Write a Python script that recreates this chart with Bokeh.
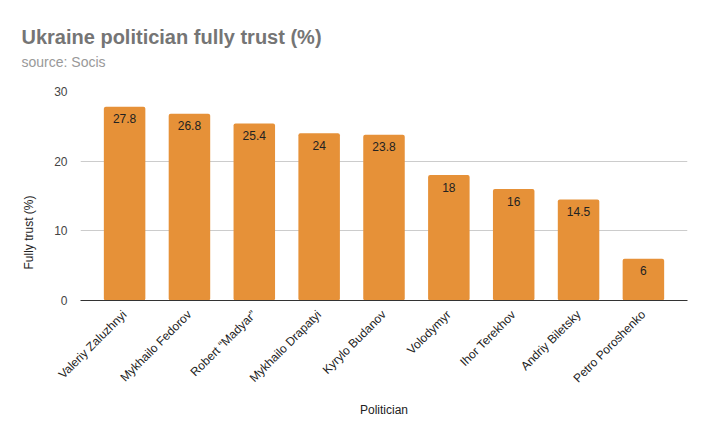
import math
from bokeh.plotting import figure
from bokeh.models import (ColumnDataSource, FactorRange, Range1d, FixedTicker,
                          LabelSet, Title)
from bokeh.core.properties import value
from bokeh.embed import file_html
from bokeh.resources import INLINE

politicians = ["Valeriy Zaluzhnyi", "Mykhailo Fedorov", "Robert \u201cMadyar\u201d",
               "Mykhailo Drapatyi", "Kyrylo Budanov", "Volodymyr", "Ihor Terekhov",
               "Andriy Biletsky", "Petro Poroshenko"]
trust = [27.8, 26.8, 25.4, 24, 23.8, 18, 16, 14.5, 6]
labels = ["27.8", "26.8", "25.4", "24", "23.8", "18", "16", "14.5", "6"]
y_ticks = [0, 10, 20, 30]

title_text = "Ukraine politician fully trust (%)"
subtitle_text = "source: Socis"
x_title = "Politician"
y_title = "Fully trust (%)"

FONT = "Liberation Sans"
BAR = "#e69138"

src = ColumnDataSource(dict(x=politicians, y=trust, lab=labels))

p = figure(width=694, height=423, output_backend="svg", toolbar_location=None,
           x_range=FactorRange(factors=politicians, range_padding=0.18,
                               range_padding_units="absolute"),
           y_range=Range1d(0, 30))
p.min_border_left = 80
p.min_border_right = 7
p.min_border_top = 91
p.min_border_bottom = 120
p.outline_line_color = None
p.background_fill_color = "white"
p.border_fill_color = "white"

p.vbar(x="x", top="y", width=0.64, source=src, fill_color=BAR, line_color=None,
       border_radius=2)

p.add_layout(LabelSet(x="x", y="y", text="lab", source=src, y_offset=-12,
                      text_align="center", text_baseline="middle",
                      text_font_size=value("12px"), text_font=value(FONT),
                      text_color=value("#222222")))

p.xgrid.grid_line_color = None
p.ygrid.grid_line_color = "#cccccc"
p.ygrid.ticker = FixedTicker(ticks=y_ticks)
p.yaxis.ticker = FixedTicker(ticks=y_ticks)
p.yaxis.axis_line_color = None
p.yaxis.major_tick_line_color = None
p.yaxis.minor_tick_line_color = None
p.yaxis.major_label_text_font = FONT
p.yaxis.major_label_text_font_size = "12px"
p.yaxis.major_label_text_color = "#444444"
p.yaxis.major_label_standoff = 7

p.xaxis.axis_line_color = "#333333"
p.xaxis.axis_line_width = 1
p.xaxis.major_tick_line_color = None
p.xaxis.minor_tick_line_color = None
p.xaxis.major_label_orientation = math.pi / 4
p.xaxis.major_label_text_font = FONT
p.xaxis.major_label_text_font_size = "12px"
p.xaxis.major_label_text_color = "#222222"
p.xaxis.major_label_standoff = 6

# spacer next to the frame, then subtitle, then the main title (outermost)
p.add_layout(Title(text=" ", text_font=FONT, text_font_size="1px",
                   align="left", standoff=18), "above")
p.add_layout(Title(text=subtitle_text, text_font=FONT, text_font_size="14px",
                   text_font_style="normal", text_color="#999999",
                   align="left", offset=-59, standoff=2), "above")

p.title.text = title_text
p.title.text_font = FONT
p.title.text_font_size = "20px"
p.title.text_font_style = "bold"
p.title.text_color = "#757575"
p.title.align = "left"
p.title.offset = -59
p.title.standoff = 6

p.add_layout(Title(text=x_title, text_font=FONT, text_font_size="12px",
                   text_font_style="normal", text_color="#222222",
                   align="center", standoff=14), "below")
p.add_layout(Title(text=y_title, text_font=FONT, text_font_size="12px",
                   text_font_style="normal", text_color="#222222",
                   align="left", offset=31, standoff=31), "left")

open("out.html", "w").write(file_html(p, INLINE))
